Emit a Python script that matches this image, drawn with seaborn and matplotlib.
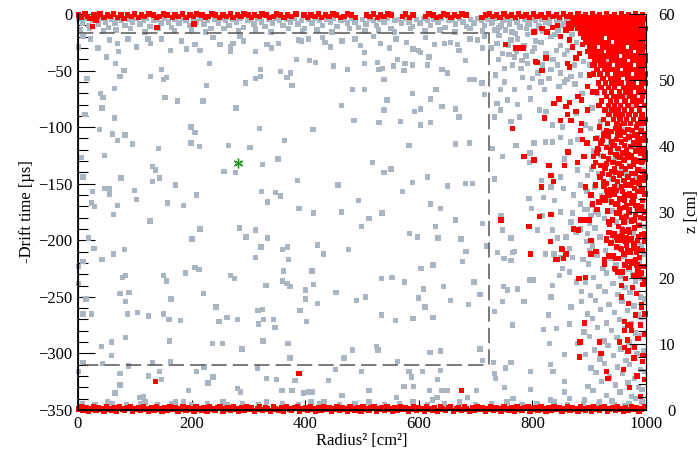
import matplotlib
matplotlib.use("Agg")
import matplotlib.pyplot as plt
import pandas as pd
import seaborn as sns
from matplotlib.ticker import MultipleLocator

# ---------------- data ----------------
# Radius^2 [cm^2], -drift time [us]
red_top = [
(1,-1),(5,-3),(12,0),(17,-2),(21,-4),(28,-1),(34,-2),(39,0),(46,-3),(52,-1),(57,-2),(63,0),(70,-3),(76,-1),(81,-4),(87,-1),
(94,-2),(99,0),(106,-3),(112,-1),(117,-2),(125,0),(133,-1),(138,-3),(144,-2),(151,0),(157,-1),(166,-3),(171,-1),(177,-2),
(184,0),(190,-3),(197,-1),(203,-2),(209,0),(218,-1),(224,-3),(229,-2),(236,0),(242,-1),(249,-3),(255,-1),(261,-2),(268,0),
(273,-3),(281,-1),(287,-2),(292,0),(300,-1),(306,-3),(311,-1),(319,-2),(324,0),(331,-1),(337,-3),(344,-2),(350,0),(357,-1),
(363,-3),(369,-1),(376,-2),(384,0),(398,-1),(404,-3),(410,-1),(417,-2),(423,0),(429,-3),(436,-1),(442,-2),(449,0),(455,-1),
(462,-3),(468,-2),(475,0),(481,-1),(489,-3),(508,-1),(514,-2),(520,0),(527,-3),(533,-1),(539,-2),(546,0),(552,-1),(571,-2),
(577,0),(584,-3),(590,-1),(612,-2),(618,0),(625,-1),(631,-3),(638,-2),(644,0),(650,-1),(657,-3),(663,-1),(670,-2),(676,0),
(683,-1),(711,-3),(717,-1),(724,0),(730,-2),(737,-1),(743,-3),(750,0),(756,-2),(763,-1),(770,-3),(776,0),(782,-2),(789,-1),
(795,-3),(802,0),(808,-2),(815,-1),(822,-3),(828,0),(835,-2),(842,-1),(848,-3),(855,0),(861,-2),(867,-1),(874,-3),(880,0),
(886,-2),(893,-1),(899,-3),(906,0),(912,-2),(918,-1),(925,-3),(931,0),(938,-2),(944,-1),(950,-3),(957,0),(963,-2),(969,-1),
(976,-3),(982,0),(988,-2),(994,-1),(997,-4)]

red_isolated = [(25,-11),(32,-6),(139,-12),(204,-9),(136,-325),(389,-318),(675,-333)]

# dense red core near the outer wall (top corner), stored row by row
red_block_t = [-5,-9,-13,-17,-21,-25,-29,-33,-37,-41,-45,-49,-53,-57,-61,-65,-69,-73,-77,-81,-85,-89,-93,-97]
red_block_r2 = [
[871,879,886,893,901,908,915,923,930,937,944,952,959,966,974,981,988,995],
[864,873,884,891,898,906,913,921,928,935,943,950,957,965,972,979,987,994],
[868,880,888,895,903,911,918,926,933,940,947,955,962,970,977,984,992,998],
[885,893,900,909,916,924,931,939,946,953,961,968,975,983,990,997],
[890,899,907,914,922,936,943,951,958,966,973,980,988,995],
[896,904,911,919,927,934,948,955,963,970,978,985,993],
[901,909,923,930,938,945,952,960,975,982,990,997],
[897,906,914,921,935,943,950,957,965,972,987,994],
[903,918,926,933,940,948,962,969,977,984,992,998],
[910,917,925,939,946,954,961,976,983,991,998],
[906,921,929,936,951,958,965,973,988,995],
[914,927,934,942,949,964,971,979,986,994],
[908,919,932,947,955,962,969,984,991,998],
[924,937,944,952,967,974,982,989,997],
[916,929,940,948,956,970,978,993,998],
[921,934,945,961,968,976,983,991],
[913,927,939,953,965,973,988,996],
[931,943,950,958,971,980,994],
[922,937,948,963,976,985,992],
[917,934,945,955,968,983,997],
[928,940,951,962,974,989],
[935,947,958,970,981,993],
[925,943,954,966,978,990,998],
[932,949,961,973,986,996]]

red_wall = [
(918,-100),(931,-103),(946,-101),(953,-99),(968,-102),(983,-100),(991,-103),(927,-106),(939,-104),(955,-107),(962,-105),
(976,-103),(997,-106),(912,-110),(934,-108),(948,-111),(970,-109),(985,-107),(993,-110),(923,-112),(941,-115),(957,-113),
(964,-111),(979,-114),(998,-112),(930,-118),(944,-116),(951,-119),(973,-117),(988,-115),(916,-120),(937,-122),(959,-123),
(966,-120),(981,-121),(995,-119),(925,-126),(947,-124),(954,-127),(975,-125),(990,-123),(934,-128),(942,-131),(961,-129),
(969,-127),(984,-130),(998,-128),(921,-134),(950,-132),(957,-135),(978,-133),(992,-131),(928,-136),(939,-139),(964,-137),
(972,-135),(986,-138),(935,-142),(946,-140),(953,-143),(981,-141),(995,-139),(919,-144),(943,-146),(960,-147),(968,-144),
(989,-145),(931,-150),(950,-148),(974,-151),(983,-149),(997,-147),(926,-152),(938,-155),(957,-153),(965,-151),(980,-154),
(941,-158),(948,-156),(971,-159),(986,-157),(993,-155),(933,-160),(954,-163),(962,-161),(977,-162),(998,-159),
(939,-166),(958,-164),(977,-167),(994,-165),(946,-168),(963,-171),(985,-169),(932,-174),(954,-172),(970,-175),(991,-173),
(949,-176),(966,-179),(982,-177),(941,-182),(957,-180),(975,-183),(996,-181),(936,-186),(961,-184),(988,-187),(952,-188),
(969,-191),(980,-189),(944,-194),(963,-192),(992,-195),(958,-196),(974,-199),(987,-197),(939,-202),(951,-200),(979,-203),
(997,-201),(948,-206),(966,-204),(984,-207),(957,-208),(972,-211),(993,-209),(943,-214),(961,-212),(989,-215),(951,-216),
(968,-219),(981,-217),(963,-222),(975,-220),(995,-223),(946,-226),(970,-224),(986,-227),(958,-228),(979,-231),(992,-229),
(964,-234),(988,-231),(976,-242),(995,-239),(957,-250),(983,-247),(969,-256),(992,-259),(981,-266),(962,-272),(990,-275),
(975,-280),(997,-283),(953,-290),(986,-287),(968,-298),(979,-304),(994,-307),(960,-314),(984,-320),(997,-323),(971,-330),
(990,-338)]

red_right = [
(753,-27),(771,-30),(780,-30),(808,-43),(817,-50),(803,-16),(817,-13),(826,-16),(835,-12),(844,-10),(850,-20),(859,-14),
(865,-23),(871,-29),(862,-44),(865,-47),(877,-39),(883,-35),(888,-27),(894,-23),(897,-19),(838,-79),(847,-75),(859,-82),
(865,-78),(880,-73),(886,-76),(862,-89),(868,-94),(877,-86),(850,-94),(886,-97),(897,-85),(821,-92),(765,-101),(903,-33),
(911,-38),(909,-45),(900,-54),(897,-64),(906,-69),(784,-30),(806,-42),(824,-39),
(785,-126),(803,-129),(829,-134),(833,-143),(837,-148),(816,-153),(856,-134),(863,-122),(879,-131),(885,-103),(888,-111),
(896,-114),(891,-126),(894,-153),(903,-160),(906,-168),(885,-182),(891,-182),(900,-182),(914,-173),(917,-166),(923,-162),
(911,-151),(908,-135),(911,-131),(908,-126),(914,-123),(915,-119),(921,-114),(925,-107),(932,-106),(940,-113),(937,-120),
(930,-132),(923,-141),(925,-148),(930,-156),(936,-160),(944,-153),(945,-159),(928,-165),(935,-184),(941,-182),(949,-168),
(953,-175),(962,-165),(966,-169),(971,-173),(974,-167),(982,-169),(985,-173),(991,-170),(997,-175),(990,-180),(979,-182),
(971,-193),(965,-198),(956,-200),(938,-203),(930,-200),(949,-197),(959,-191),(997,-194),(985,-200),(979,-207),(968,-209),
(947,-216),(935,-214),(927,-217),(911,-210),(903,-200),(851,-207),(855,-216),(841,-217),(833,-177),(812,-179),(797,-212),
(794,-188),(745,-182),(950,-106),(956,-104),(971,-108),(980,-107),(985,-111),(988,-119),(997,-108),(998,-123),(962,-116),
(968,-124),(979,-129),(994,-130),(985,-138),(974,-141),(976,-147),(988,-150),(998,-144),(968,-151),(962,-147),(956,-141),
(953,-132),(944,-137),(950,-126),(990,-157),(979,-161),(968,-160),(959,-157),
(832,-201),(843,-217),(852,-208),(859,-212),(872,-190),(881,-191),(882,-234),(893,-233),(892,-273),(884,-290),(883,-303),
(903,-212),(912,-210),(918,-290),(921,-300),(927,-221),(930,-316),(933,-322),(935,-193),(931,-199),(941,-196),(944,-225),
(950,-216),(950,-228),(955,-207),(959,-200),(965,-201),(971,-200),(957,-240),(962,-280),(967,-275),(972,-275),(967,-288),
(962,-295),(973,-210),(977,-219),(983,-211),(984,-222),(980,-295),(995,-302),(997,-197),(997,-235),(992,-257),(998,-265)]

red_bottom = [
(1,-349),(5,-347),(9,-350),(14,-348),(18,-351),(23,-349),(27,-347),(32,-350),(36,-348),(41,-349),(46,-351),(50,-347),
(55,-349),(59,-350),(64,-348),(68,-351),(73,-347),(78,-349),(82,-350),(87,-348),(92,-347),(96,-351),(101,-349),(106,-348),
(110,-350),(115,-347),(120,-349),(124,-351),(129,-348),(134,-350),(138,-347),(143,-349),(148,-351),(152,-348),(157,-350),
(162,-347),(166,-349),(171,-348),(176,-351),(180,-349),(185,-347),(190,-350),(194,-348),(199,-349),(204,-351),(208,-347),
(213,-349),(218,-350),(222,-348),(227,-351),(232,-347),(236,-349),(241,-350),(246,-348),(250,-347),(255,-351),(260,-349),
(264,-348),(269,-350),(274,-347),(278,-349),(283,-351),(288,-348),(292,-350),(297,-347),(302,-349),(306,-348),(311,-351),
(316,-349),(320,-347),(325,-350),(330,-348),(334,-349),(339,-351),(344,-347),(348,-349),(353,-350),(358,-348),(362,-351),
(367,-347),(372,-349),(376,-350),(381,-348),(386,-347),(390,-351),(395,-349),(400,-348),(404,-350),(409,-347),(414,-349),
(418,-351),(423,-348),(428,-350),(432,-347),(437,-349),(442,-348),(446,-351),(451,-349),(456,-347),(460,-350),(465,-348),
(470,-349),(474,-351),(479,-347),(484,-349),(488,-350),(493,-348),(498,-351),(502,-347),(507,-349),(512,-350),(516,-348),
(521,-347),(526,-351),(530,-349),(535,-348),(540,-350),(544,-347),(549,-349),(554,-351),(558,-348),(563,-350),(568,-347),
(572,-349),(577,-348),(582,-351),(586,-349),(591,-347),(596,-350),(600,-348),(605,-349),(610,-351),(614,-347),(619,-349),
(624,-350),(628,-348),(633,-351),(638,-347),(642,-349),(647,-350),(652,-348),(656,-347),(661,-351),(666,-349),(670,-348),
(675,-350),(680,-347),(684,-349),(689,-351),(694,-348),(698,-350),(703,-347),(708,-349),(712,-348),(717,-351),(722,-349),
(726,-347),(731,-350),(736,-348),(740,-349),(745,-351),(750,-347),(754,-349),(759,-350),(764,-348),(768,-351),(773,-347),
(778,-349),(782,-350),(787,-348),(792,-347),(796,-351),(801,-349),(806,-348),(810,-350),(815,-347),(820,-349),(824,-351),
(829,-348),(834,-350),(838,-347),(843,-349),(848,-348),(852,-351),(857,-349),(862,-347),(866,-350),(871,-348),(876,-349),
(880,-351),(885,-347),(890,-349),(894,-350),(899,-348),(904,-351),(908,-347),(913,-349),(918,-350),(922,-348),(927,-347),
(932,-351),(936,-349),(941,-348),(946,-350),(950,-347),(955,-349),(960,-351),(964,-348),(969,-350),(974,-347),(978,-349),
(983,-348),(988,-351),(992,-349),(997,-347)]

gray_top = [
(2,-5),(8,-8),(14,-4),(19,-10),(25,-6),(31,-5),(36,-9),(42,-4),(48,-7),(54,-12),(59,-5),(65,-8),(71,-4),(77,-6),(83,-10),
(89,-5),(96,-7),(102,-4),(109,-9),(115,-6),(121,-4),(127,-11),(134,-6),(140,-5),(146,-8),(152,-4),(159,-7),(165,-12),
(171,-5),(178,-8),(184,-4),(190,-6),(196,-10),(203,-5),(209,-7),(215,-4),(222,-9),(228,-6),(234,-13),(241,-5),(247,-8),
(253,-4),(260,-6),(266,-10),(272,-5),(279,-7),(285,-4),(291,-12),(298,-6),(304,-5),(310,-9),(317,-4),(323,-7),(329,-11),
(336,-5),(342,-8),(348,-4),(355,-6),(361,-10),(368,-5),(374,-7),(380,-4),(387,-9),(393,-6),(399,-13),(406,-5),(412,-8),
(418,-4),(425,-6),(431,-10),(437,-5),(444,-7),(450,-4),(456,-11),(463,-6),(469,-5),(475,-8),(482,-4),(488,-7),(494,-12),
(501,-5),(507,-9),(513,-4),(520,-6),(526,-10),(532,-5),(539,-7),(545,-4),(551,-13),(558,-6),(564,-5),(570,-8),(577,-4),
(583,-7),(589,-11),(596,-5),(602,-8),(608,-4),(615,-6),(621,-10),(627,-5),(634,-7),(640,-4),(646,-12),(653,-6),(659,-5),
(665,-9),(672,-4),(678,-7),(684,-11),(691,-5),(697,-8),(703,-4),(710,-6),(716,-10),(722,-5),(729,-7),(735,-4),(741,-12),
(748,-6),(754,-5),(760,-9),(767,-4),(773,-7),(779,-11),(786,-5),(792,-8),(798,-4),(805,-6),(811,-10),(817,-5),(824,-7),
(830,-4),(836,-12),(843,-6),(849,-5),(855,-9),(862,-4),(868,-7),(874,-11),(881,-5),(887,-8),(893,-4),
(4,-14),(20,-13),(45,-15),(67,-14),(92,-13),(118,-16),(141,-13),(170,-15),(200,-14),(225,-16),(257,-13),(283,-15),
(313,-14),(340,-16),(371,-13),(395,-15),(421,-14),(447,-16),(478,-13),(505,-15),(529,-14),(557,-16),(585,-13),(611,-15),
(637,-14),(664,-16),(690,-13),(712,-15),(738,-14),(764,-16),(790,-13),(818,-15),(845,-14)]

gray_inner = [
(1,-29),(16,-57),(12,-89),(40,-70),(44,-74),(42,-83),(38,-102),(50,-38),(66,-44),(64,-66),(74,-55),(81,-50),(64,-92),
(61,-106),(70,-112),(83,-107),(96,-115),(47,-125),(5,-127),(9,-144),(26,-157),(24,-167),(29,-170),(47,-154),(56,-154),
(56,-159),(70,-169),(62,-177),(76,-145),(100,-156),(103,-164),(127,-183),(131,-135),(136,-138),(131,-148),(143,-145),
(142,-119),(147,-49),(150,-58),(156,-56),(153,-74),(175,-77),(128,-55),(172,-151),(158,-167),(186,-169),(199,-100),
(206,-105),(199,-114),(214,-117),(209,-160),(226,-63),(220,-77),(232,-44),(257,-139),(265,-116),(278,-83),(277,-140),
(295,-61),(303,-118),(313,-57),(321,-55),(321,-49),(325,-133),(320,-101),(323,-157),(334,-166),(348,-158),(356,-161),
(352,-128),(356,-51),(364,-112),(368,-56),(374,-52),(377,-63),(385,-40),(386,-147),(389,-172),(414,-102),(415,-176),
(408,-41),(418,-43),(450,-46),(458,-151),(464,-81),(464,-175),(474,-49),
(9,-20),(22,-22),(35,-30),(56,-23),(69,-26),(71,-33),(88,-22),(103,-29),(123,-22),(128,-26),(147,-22),(163,-32),(182,-24),
(191,-31),(206,-27),(215,-32),(238,-21),(250,-27),(268,-29),(269,-33),(273,-26),(285,-20),(291,-24),(313,-33),(333,-27),
(341,-30),(353,-26),(388,-23),(394,-24),(406,-22),(431,-21),(435,-25),(444,-29),(465,-24),
(1,-223),(1,-238),(9,-219),(18,-198),(28,-207),(14,-252),(9,-265),(24,-265),(1,-316),(9,-308),(42,-217),(62,-212),
(82,-208),(78,-233),(84,-231),(74,-247),(84,-254),(90,-246),(87,-265),(84,-286),(41,-294),(43,-309),(59,-302),(59,-290),
(65,-335),(74,-328),(74,-318),(89,-311),(105,-264),(124,-267),(109,-339),(115,-338),(124,-320),(131,-308),(143,-316),
(147,-323),(150,-265),(160,-270),(164,-252),(161,-289),(163,-307),(150,-231),(156,-236),(168,-344),(186,-343),(181,-271),
(189,-229),(194,-333),(201,-199),(206,-224),(213,-226),(215,-190),(209,-316),(222,-312),(221,-247),(229,-326),(238,-321),
(237,-291),(243,-259),(248,-272),(254,-291),(262,-268),(268,-231),(276,-234),(284,-189),(281,-270),(281,-331),(286,-334),
(289,-296),(296,-197),(312,-191),(312,-215),(317,-262),(318,-274),(325,-261),(322,-206),(327,-270),(334,-198),(331,-240),
(316,-313),(326,-289),(332,-322),(344,-270),(347,-277),(350,-323),(359,-333),(360,-236),(362,-227),(360,-208),(369,-206),
(371,-217),(368,-238),(373,-241),(370,-291),(373,-304),(377,-333),(382,-324),(391,-262),(397,-335),(400,-252),(401,-244),
(402,-272),(406,-334),(412,-334),(412,-227),(415,-239),(422,-256),(422,-204),(432,-212),(441,-324),(453,-314),(454,-246),
(465,-337),(468,-304),(476,-208),
(504,-34),(504,-44),(527,-43),(530,-49),(536,-48),(539,-58),(555,-46),(562,-40),(574,-50),(576,-44),(589,-45),(600,-32),
(603,-34),(618,-38),(615,-45),(645,-26),(641,-49),(650,-52),(656,-25),(668,-27),(671,-32),(682,-41),(689,-58),(697,-58),
(703,-23),(711,-61),(716,-71),(483,-67),(504,-67),(544,-76),(539,-85),(589,-70),(592,-86),(603,-84),(630,-67),(621,-75),
(641,-82),(665,-84),(671,-91),(568,-95),(603,-98),(621,-96),(530,-96),(583,-116),(665,-115),(689,-114),(518,-131),
(539,-140),(551,-137),(589,-149),(615,-144),(650,-152),(682,-150),(694,-150),(571,-157),(494,-165),(512,-181),(535,-176),
(621,-168),(638,-172),(665,-182),(486,-94),(488,-22),(497,-28),(520,-20),(533,-26),(548,-30),(560,-22),(578,-25),
(590,-31),(612,-21),(628,-27),(690,-22),(712,-30),(716,-20),
(499,-188),(584,-194),(598,-197),(634,-198),(674,-199),(629,-188),(683,-210),(677,-219),(719,-205),(604,-225),(625,-222),
(534,-234),(553,-233),(575,-237),(608,-243),(643,-241),(697,-237),(708,-248),(656,-253),(688,-257),(599,-251),(611,-259),
(490,-253),(506,-250),(534,-266),(559,-271),(590,-269),(625,-268),(483,-297),(526,-294),(528,-297),(620,-299),(638,-298),
(708,-296),(712,-306),(562,-307),(499,-316),(583,-316),(587,-321),(606,-316),(638,-315),(633,-323),(574,-329),(591,-329),
(619,-333),(641,-333),(651,-333),(624,-341),(632,-339),(686,-339),(702,-333),(561,-339),(512,-333)]

gray_right = [
(733,-14),(741,-19),(753,-14),(762,-23),(774,-22),(791,-18),(806,-24),(747,-35),(759,-36),(768,-38),(782,-41),(791,-44),
(780,-48),(751,-48),(735,-54),(751,-60),(768,-67),(744,-67),(756,-76),(738,-79),(774,-80),(797,-75),(821,-67),(847,-64),
(856,-60),(868,-55),(885,-54),(829,-57),(815,-60),(800,-57),(833,-49),(844,-45),(824,-35),(842,-32),(856,-36),(862,-32),
(874,-45),(733,-91),(762,-95),(777,-91),(812,-85),(824,-86),(835,-98),(853,-100),(744,-85),
(728,-8),(745,-10),(760,-7),(778,-12),(795,-9),(812,-11),(830,-8),(850,-10),(868,-7),(738,-26),(785,-28),(800,-33),
(815,-25),(833,-20),(870,-18),(758,-28),(772,-33),(789,-37),(804,-30),(818,-45),(836,-40),(849,-52),(861,-58),(875,-62),
(890,-42),(810,-52),(795,-65),(783,-56),(765,-45),(740,-40),(727,-30),(850,-28),(878,-25),(888,-12),(860,-5),(840,-18),
(822,-5),(805,-15),(788,-4),(770,-17),(757,-4),
(905,-23),(930,-40),(960,-30),(985,-50),(915,-70),(945,-60),(975,-80),(950,-90),(920,-95),(990,-65),(938,-85),(962,-72),
(900,-45),(925,-57),(955,-44),(980,-12),(995,-25),(940,-15),(905,-83),(887,-70),(878,-88),(893,-98),
(730,-119),(747,-126),(771,-116),(796,-123),(795,-131),(803,-114),(823,-113),(835,-113),(850,-109),(867,-113),(879,-111),
(856,-128),(879,-138),(850,-144),(897,-143),(885,-151),(872,-160),(855,-154),(816,-147),(833,-153),(839,-165),(820,-162),
(794,-163),(798,-172),(818,-178),(850,-175),(871,-176),(897,-173),(903,-178),(911,-175),(885,-168),(868,-184),(877,-193),
(885,-190),(897,-194),(859,-197),(844,-198),(809,-191),(835,-191),(762,-198),(747,-191),(745,-178),(733,-146),(712,-185),
(719,-205),(739,-211),(751,-216),(765,-211),(823,-212),(838,-212),(850,-215),(865,-207),(871,-215),(900,-209),
(732,-308),(733,-318),(735,-322),(733,-263),(747,-254),(749,-241),(756,-244),(762,-218),(750,-216),(768,-210),(765,-275),
(753,-313),(762,-308),(751,-330),(766,-340),(774,-243),(785,-254),(796,-235),(802,-235),(797,-316),(797,-332),(820,-279),
(828,-266),(833,-250),(835,-240),(830,-291),(832,-310),(836,-316),(832,-341),(842,-278),(848,-231),(853,-225),(865,-228),
(865,-274),(856,-301),(857,-325),(856,-334),(865,-340),(868,-259),(878,-237),(880,-291),(886,-245),(886,-254)]

gray_wall = [
(902,-101),(926,-105),(958,-102),(975,-106),(991,-100),(915,-109),(938,-113),(967,-110),(984,-114),(908,-121),(933,-117),
(952,-120),(977,-118),(996,-122),(921,-125),(944,-129),(963,-126),(988,-130),(904,-137),(930,-133),(957,-136),(972,-134),
(993,-138),(917,-141),(940,-145),(966,-142),(981,-146),(909,-153),(928,-149),(949,-152),(973,-150),(990,-154),(896,-157),
(922,-161),(944,-158),(961,-162),(985,-156),(905,-169),(933,-165),(952,-168),(976,-166),(994,-170),(892,-173),(916,-177),
(941,-174),(964,-178),(983,-172),(901,-185),(927,-181),(948,-184),(969,-182),(988,-186),(910,-189),(936,-193),(957,-190),
(978,-194),(997,-188),(895,-201),(919,-197),(945,-200),(966,-198),(984,-202),(906,-205),(929,-209),(952,-206),(973,-210),
(992,-204),(889,-217),(914,-213),(938,-216),(961,-214),(980,-218),(996,-212),(899,-221),(924,-225),(947,-222),(970,-226),
(988,-220),(908,-233),(931,-229),(955,-232),(976,-230),(993,-234),(893,-237),(917,-241),(942,-238),(963,-242),(982,-236),
(902,-249),(928,-245),(951,-248),(972,-246),(990,-250),(911,-253),(935,-257),(958,-254),(979,-258),(997,-252),(897,-265),
(920,-261),(944,-264),(967,-262),(986,-266),(906,-269),(930,-273),(953,-270),(974,-274),(992,-268),(891,-281),(915,-277),
(939,-280),(962,-278),(981,-282),(900,-285),(926,-289),(949,-286),(970,-290),(989,-284),(909,-297),(933,-293),(956,-296),
(977,-294),(996,-298),(894,-301),(919,-305),(943,-302),(965,-306),(984,-300),(903,-313),(927,-309),(950,-312),(971,-310),
(990,-314),(912,-317),(936,-321),(959,-318),(980,-322),(997,-316),(898,-329),(922,-325),(946,-328),(968,-326),(987,-330),
(907,-333),(931,-337),(954,-334),(975,-338),(993,-332),(892,-341),(916,-345),(940,-342),(963,-346),(982,-340)]

gray_bottom = [
(8,-344),(30,-345),(52,-343),(60,-344),(85,-345),(110,-344),(118,-343),(140,-345),(165,-344),(172,-343),(200,-345),
(228,-344),(255,-343),(262,-345),(290,-344),(318,-345),(332,-343),(360,-344),(388,-345),(410,-343),(425,-344),(433,-343),
(460,-345),(488,-344),(512,-343),(540,-345),(566,-344),(590,-343),(615,-345),(645,-344),(672,-343),(700,-345),(728,-344),
(755,-343),(782,-345),(808,-344),(838,-343),(862,-345),(890,-344),(918,-343),(945,-345),(970,-344),(993,-343)]

star_r2 = [282]
star_t = [-132]

fiducial_r2_max = 723
fiducial_t_top = -17
fiducial_t_bottom = -310

z_range = (0, 60)

# ---------------- build table ----------------
rows = []
for grp in (gray_top, gray_inner, gray_right, gray_wall, gray_bottom):
    rows += [(x, y, "gray") for x, y in grp]
for grp in (red_top, red_isolated, red_right, red_wall, red_bottom):
    rows += [(x, y, "red") for x, y in grp]
for yy, xs in zip(red_block_t, red_block_r2):
    rows += [(x, yy, "red") for x in xs]
df = pd.DataFrame(rows, columns=["r2", "t", "kind"])

GRAY = "#a9b5c1"
RED = "#ff0000"

# ---------------- figure ----------------
sns.set_theme(style="white")
plt.rcParams["font.family"] = ["Liberation Serif", "DejaVu Serif"]
plt.rcParams["axes.edgecolor"] = "black"
plt.rcParams["text.color"] = "black"
plt.rcParams["xtick.color"] = "black"
plt.rcParams["ytick.color"] = "black"
plt.rcParams["axes.labelcolor"] = "black"

fig = plt.figure(figsize=(6.98, 4.5), dpi=100)
ax = fig.add_axes([78/698, 1 - 410/450, (646-78)/698, (410-14)/450])

sns.scatterplot(data=df, x="r2", y="t", hue="kind", palette={"gray": GRAY, "red": RED},
                marker="s", s=15, linewidth=0, legend=False, ax=ax, clip_on=False, zorder=2)

ax.plot([0, fiducial_r2_max, fiducial_r2_max, 0],
        [fiducial_t_top, fiducial_t_top, fiducial_t_bottom, fiducial_t_bottom],
        color="#555555", lw=1.1, dashes=(10, 4), zorder=3)

ax.plot(star_r2, star_t, linestyle="none", marker=(6, 2, 0), ms=7, mew=1.0,
        color="#1e9a1e", zorder=4)

ax.set_xlim(0, 1000)
ax.set_ylim(-350, 0)
ax.xaxis.set_major_locator(MultipleLocator(200))
ax.yaxis.set_major_locator(MultipleLocator(50))
ax.yaxis.set_minor_locator(MultipleLocator(10))
ax.tick_params(axis="x", which="major", direction="in", length=7.5, width=0.8, pad=4, labelsize=12,
               bottom=True, top=False)
ax.tick_params(axis="y", which="major", direction="in", length=12, width=0.8, pad=4, labelsize=12,
               left=True, right=False)
ax.tick_params(axis="y", which="minor", direction="in", length=7, width=0.8, left=True, right=False)
for s in ("left", "bottom", "right"):
    ax.spines[s].set_linewidth(0.8)
ax.spines["top"].set_visible(False)
ax.set_xlabel("Radius² [cm²]", fontsize=12, labelpad=1)
ax.set_ylabel("-Drift time [µs]", fontsize=12, labelpad=2)

ax2 = ax.twinx()
ax2.set_ylim(*z_range)
ax2.yaxis.set_major_locator(MultipleLocator(10))
ax2.yaxis.set_minor_locator(MultipleLocator(2))
ax2.tick_params(axis="y", which="major", direction="in", length=12, width=0.8, pad=21, labelsize=12)
ax2.tick_params(axis="y", which="minor", direction="in", length=5.5, width=0.8)
for lbl in ax2.get_yticklabels():
    lbl.set_horizontalalignment("right")
ax2.spines["top"].set_visible(False)
ax2.spines["right"].set_linewidth(0.8)
ax2.set_ylabel("z [cm]", fontsize=12, labelpad=6)

fig.savefig("out.png", dpi=100)
